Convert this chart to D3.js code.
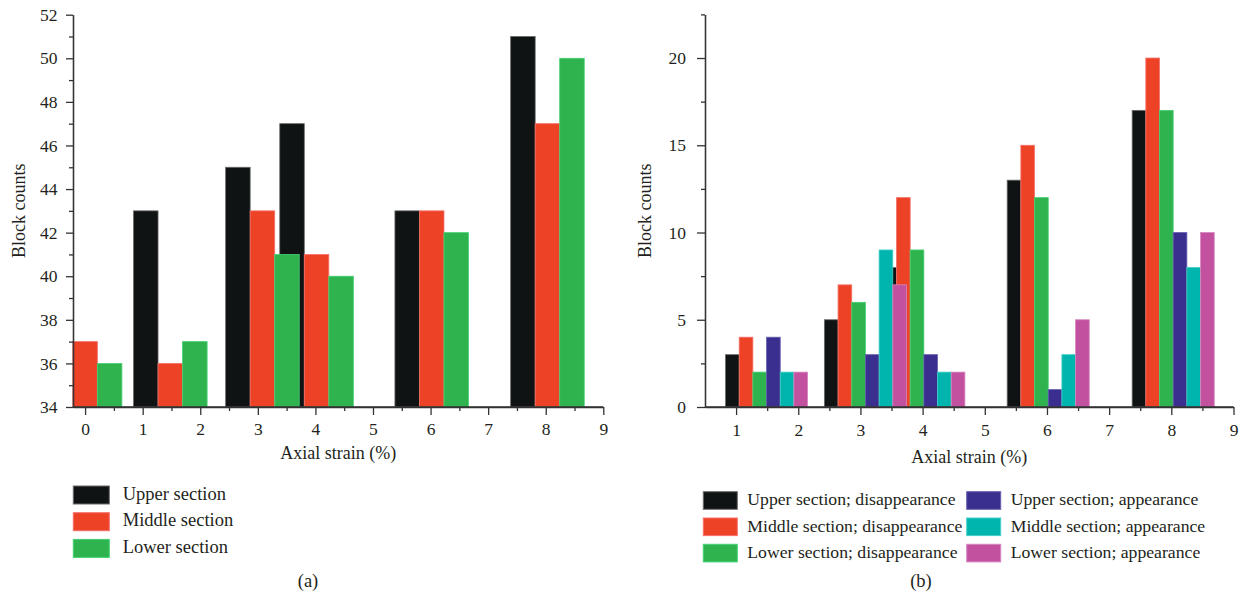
<!DOCTYPE html>
<html>
<head>
<meta charset="utf-8">
<script src="https://cdn.jsdelivr.net/npm/d3@7"></script>
<style>
  body { margin: 0; background: #fff; }
  svg text { font-family: "Liberation Serif", "Times New Roman", serif; fill: #231f20; }
  .axis path, .axis line { stroke: #333; stroke-width: 1.3; }
</style>
</head>
<body>
<div id="chart"></div>
<script>
// ---- data, panel (a)
const strainA = [0, 1.48, 3.08, 4.02, 6.02, 8.03];
const upperA = [null, 43, 45, 47, 43, 51];
const middleA = [37, 36, 43, 41, 43, 47];
const lowerA = [36, 37, 41, 40, 42, 50];
const namesA = ["Upper section", "Middle section", "Lower section"];
const xTicksA = [0, 1, 2, 3, 4, 5, 6, 7, 8, 9];
const yTicksA = [34, 36, 38, 40, 42, 44, 46, 48, 50, 52];

// ---- data, panel (b)
const strainB = [1.49, 3.08, 4.02, 6.02, 8.03];
const upperDis = [3, 5, 8, 13, 17];
const middleDis = [4, 7, 12, 15, 20];
const lowerDis = [2, 6, 9, 12, 17];
const upperApp = [4, 3, 3, 1, 10];
const middleApp = [2, 9, 2, 3, 8];
const lowerApp = [2, 7, 2, 5, 10];
const namesB = ["Upper section; disappearance", "Middle section; disappearance", "Lower section; disappearance",
                "Upper section; appearance", "Middle section; appearance", "Lower section; appearance"];
const xTicksB = [1, 2, 3, 4, 5, 6, 7, 8, 9];
const yTicksB = [0, 5, 10, 15, 20];

const fills = ["#0f1314", "#ee4227", "#2fb34e", "#3a2f8f", "#00b5ad", "#c2529f"];
const edges = ["#6a6a6a", "#f5716a", "#45d173", "#6660b0", "#45cfc8", "#d886bf"];

const svg = d3.select("#chart").append("svg")
    .attr("width", 1246)
    .attr("height", 599);

function drawPanel(p) {
    const x = d3.scaleLinear().domain(p.xDomain).range(p.xRange);
    const y = d3.scaleLinear().domain(p.yDomain).range([407, p.yTop]);
    const g = svg.append("g");

    // bars, series after series (later series sit on top)
    p.series.forEach((vals, i) => {
        const off = (i - (p.series.length - 1) / 2) * p.barW;
        g.selectAll(null)
            .data(vals.map((v, j) => [p.strain[j] + off, v]).filter(d => d[1] != null))
            .enter().append("rect")
            .attr("x", d => x(d[0] - p.barW / 2))
            .attr("width", d => x(d[0] + p.barW / 2) - x(d[0] - p.barW / 2))
            .attr("y", d => y(d[1]))
            .attr("height", d => y(p.yDomain[0]) - y(d[1]))
            .style("fill", fills[i])
            .style("stroke", edges[i])
            .style("stroke-width", 0.8);
    });

    // minor ticks
    g.append("g").attr("class", "axis")
        .attr("transform", "translate(0,407)")
        .call(d3.axisBottom(x).tickValues(p.xMinor).tickSize(4).tickSizeOuter(0).tickFormat(""));
    g.append("g").attr("class", "axis")
        .attr("transform", "translate(" + p.xRange[0] + ",0)")
        .call(d3.axisLeft(y).tickValues(p.yMinor).tickSize(4).tickSizeOuter(0).tickFormat(""));

    // X-AXIS
    const xa = g.append("g").attr("class", "axis")
        .attr("transform", "translate(0,407)")
        .call(d3.axisBottom(x).tickValues(p.xTicks).tickSize(8).tickSizeOuter(0));
    xa.selectAll("text").attr("y", p.xLabelY).attr("dy", 0).style("font-size", "17.5px");

    // Y-AXIS
    const ya = g.append("g").attr("class", "axis")
        .attr("transform", "translate(" + p.xRange[0] + ",0)")
        .call(d3.axisLeft(y).tickValues(p.yTicks).tickSize(p.yTickLen).tickPadding(p.yPad).tickSizeOuter(0));
    ya.selectAll("text").style("font-size", "17.5px");
    xa.select(".domain").attr("d", "M" + p.xRange[0] + ",0H" + p.xRange[1]);

    // labels
    g.append("text")
        .attr("x", (p.xRange[0] + p.xRange[1]) / 2)
        .attr("y", p.titleY)
        .style("text-anchor", "middle")
        .style("font-size", "18px")
        .text("Axial strain (%)");
    g.append("text")
        .attr("transform", "translate(" + p.ylabX + "," + ((407 + p.yTop) / 2) + ") rotate(-90)")
        .style("text-anchor", "middle")
        .style("font-size", "18px")
        .text("Block counts");

    // legend
    const lg = g.selectAll(".leg").data(p.names).enter().append("g")
        .attr("transform", (d, i) => "translate(" + p.leg.cols[Math.floor(i / 3)] + "," + (p.leg.top + (i % 3) * p.leg.step) + ")");
    lg.append("rect")
        .attr("width", p.leg.w).attr("height", p.leg.h)
        .style("fill", (d, i) => fills[i])
        .style("stroke", (d, i) => edges[i])
        .style("stroke-width", 1);
    lg.append("text")
        .attr("x", p.leg.w + p.leg.gap)
        .attr("y", 13.5)
        .style("font-size", p.leg.font)
        .text(d => d);

    g.append("text")
        .attr("x", p.capX).attr("y", 587)
        .style("text-anchor", "middle")
        .style("font-size", "18.5px")
        .text(p.cap);
}

drawPanel({
    strain: strainA, series: [upperA, middleA, lowerA], names: namesA, barW: 0.426,
    xDomain: [-0.21, 9], xRange: [73, 603.3], yDomain: [34, 52], yTop: 14.7,
    xTicks: xTicksA, xMinor: d3.range(0.5, 9, 1), yTicks: yTicksA, yMinor: d3.range(35, 52, 2),
    xLabelY: 28, yTickLen: 7, yPad: 8.5, titleY: 459, ylabX: 25,
    leg: { cols: [73.3], top: 486, step: 26.7, w: 36, h: 18, gap: 13.4, font: "18.5px" },
    capX: 308, cap: "(a)"
});

drawPanel({
    strain: strainB, series: [upperDis, middleDis, lowerDis, upperApp, middleApp, lowerApp], names: namesB, barW: 0.22,
    xDomain: [0.5, 9], xRange: [705, 1233.5], yDomain: [0, 22.5], yTop: 14.4,
    xTicks: xTicksB, xMinor: d3.range(1.5, 9, 1), yTicks: yTicksB, yMinor: [2.5, 7.5, 12.5, 17.5, 22.5],
    xLabelY: 29, yTickLen: 8, yPad: 11, titleY: 463, ylabX: 651,
    leg: { cols: [703.3, 966.7], top: 491.7, step: 26.3, w: 34, h: 17.6, gap: 10, font: "17.7px" },
    capX: 921, cap: "(b)"
});
</script>
</body>
</html>
